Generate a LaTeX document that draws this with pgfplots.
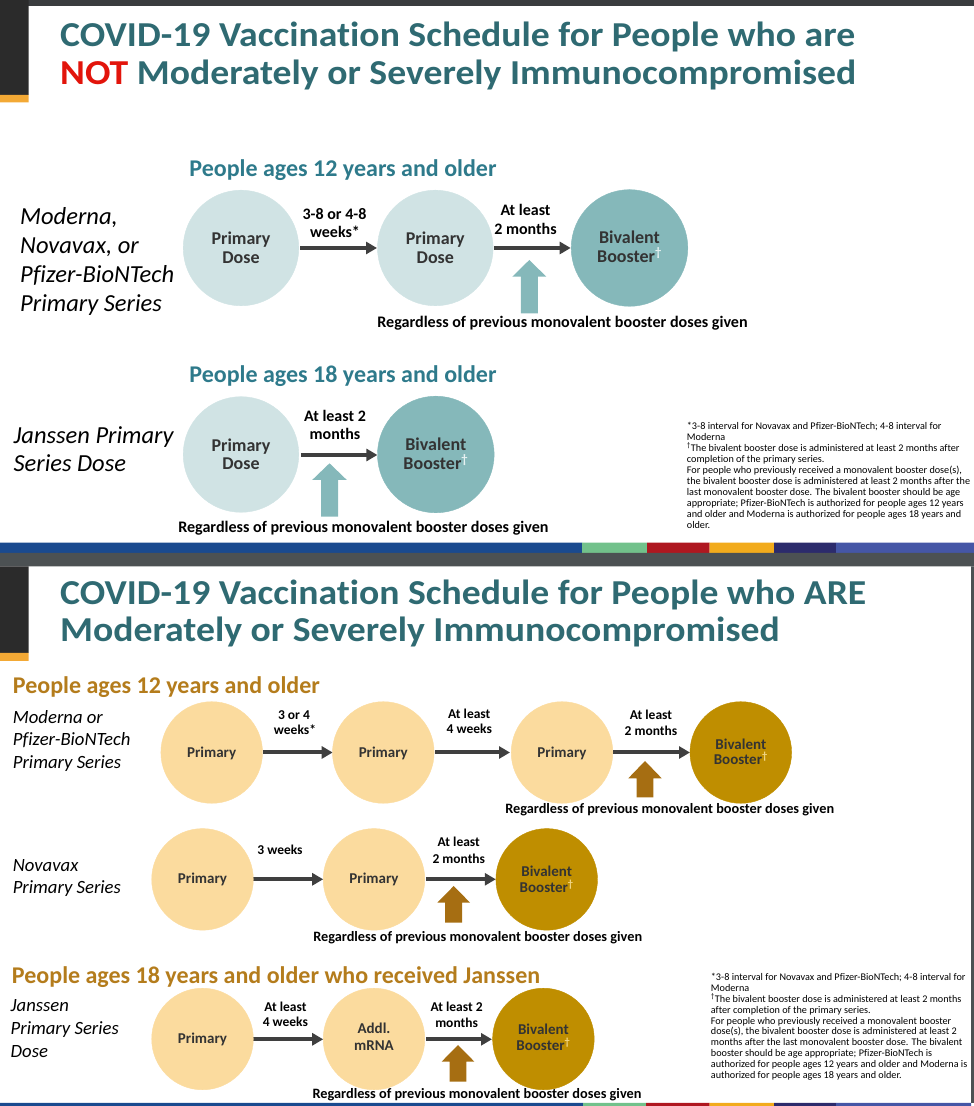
\documentclass[border=0pt]{standalone}
\usepackage{pgfplots}
\pgfplotsset{compat=1.18}
\usepackage{fontspec}
\setmainfont{Carlito}[Ligatures=NoCommon]
\usetikzlibrary{arrows.meta}
\definecolor{titlecol}{HTML}{2F6A72}
\definecolor{notred}{HTML}{E2140B}
\definecolor{hdrteal}{HTML}{2E7A8B}
\definecolor{lightteal}{HTML}{D0E3E4}
\definecolor{bivteal}{HTML}{85B8BA}
\definecolor{arrowgray}{HTML}{3F3F3F}
\definecolor{labeldark}{HTML}{333333}
\definecolor{goldhdr}{HTML}{B47C1C}
\definecolor{lightyellow}{HTML}{FBDB9E}
\definecolor{bivgold}{HTML}{BF8E00}
\definecolor{brownarrow}{HTML}{A66E12}
\definecolor{bandblue}{HTML}{1A4A8F}
\definecolor{bandgreen}{HTML}{72C18B}
\definecolor{bandred}{HTML}{AF1720}
\definecolor{bandorange}{HTML}{F2AB1C}
\definecolor{bandnavy}{HTML}{2C2B6C}
\definecolor{bandviolet}{HTML}{4556A6}
\definecolor{darkbar}{HTML}{3A3C3E}
\definecolor{leftstrip}{HTML}{2B2B2B}
\definecolor{striporange}{HTML}{F3A935}
\definecolor{grayband}{HTML}{4C5153}
\definecolor{dagteal}{HTML}{E8F2F2}
\definecolor{daggold}{HTML}{F2D88A}
\newcommand\fsz[2]{\fontsize{#1bp}{#2bp}\selectfont}
\newcommand\T[5]{\begin{pgfonlayer}{axis foreground}\node[anchor=#1, inner sep=0pt, font=#2] at (axis cs:#3,#4) {#5};\end{pgfonlayer}}
\newcommand\R[5]{\addplot[fill=#1, draw=none] coordinates {(#2,#3) (#4,#3) (#4,#5) (#2,#5) (#2,#3)};}
% up block arrow: color, cx, tip y, head half width, head base y, shaft half width, bottom y
\newcommand\UP[7]{\addplot[fill=#1, draw=none] coordinates {(#2,#3) ({#2+#4},#5) ({#2+#6},#5) ({#2+#6},#7) ({#2-#6},#7) ({#2-#6},#5) ({#2-#4},#5) (#2,#3)};}
\newcommand\AR[3]{\addplot[draw=arrowgray, line width=4bp, -{Triangle[length=11bp,width=12bp]}] coordinates {(#1,#3) (#2,#3)};}
\newcommand\FN{\fsz{10.2}{11}\color{black}}
\begin{document}
\begin{tikzpicture}
\begin{axis}[width=974bp, height=1106bp, scale only axis, xmin=0, xmax=974, ymin=0, ymax=1106, y dir=reverse, hide axis, clip=false, set layers=standard]
% ---------- frame decorations ----------
\R{darkbar}{0}{0}{974}{6}
\R{leftstrip}{0}{0}{28.5}{95}
\R{striporange}{0}{95}{28.5}{102.5}
\R{bandblue}{0}{542.7}{582}{553}
\R{bandgreen}{582}{542.7}{647}{553}
\R{bandred}{647}{542.7}{709.5}{553}
\R{bandorange}{709.5}{542.7}{774}{553}
\R{bandnavy}{774}{542.7}{836}{553}
\R{bandviolet}{836}{542.7}{974}{553}
\R{grayband}{0}{553}{974}{566.5}
\R{leftstrip}{0}{566.5}{28.5}{653}
\R{striporange}{0}{653}{28.5}{661}
\R{grayband}{971}{566.5}{974}{1103}
\R{bandblue}{0}{1103}{583}{1106}
\R{bandgreen}{583}{1103}{646}{1106}
\R{bandred}{646}{1103}{709.5}{1106}
\R{bandorange}{709.5}{1103}{774}{1106}
\R{bandnavy}{774}{1103}{836}{1106}
\R{bandviolet}{836}{1103}{971}{1106}
% ---------- top panel circles ----------
\addplot[only marks, mark=*, color=lightteal, mark size=57.8bp] coordinates {(241,248) (435.3,248) (241,454.5)};
\addplot[only marks, mark=*, color=bivteal, mark size=58.3bp] coordinates {(629.5,248) (435.8,454.5)};
\AR{300}{377}{248}
\AR{494}{570.7}{248}
\AR{300.8}{377.4}{455}
\UP{bivteal}{529.3}{260}{17}{276.7}{8.5}{313.3}
\UP{bivteal}{329.5}{463.3}{17.3}{480}{8.5}{516.7}
% ---------- bottom panel circles ----------
\addplot[only marks, mark=*, color=lightyellow, mark size=50.8bp] coordinates {(211.7,752.5) (383.3,752.5) (562,752.5) (202.5,879.4) (374,879.4) (202.5,1039) (374,1039)};
\addplot[only marks, mark=*, color=bivgold, mark size=50.8bp] coordinates {(740.8,752.5) (546.7,879.4) (543.4,1039)};
\AR{263.3}{332.7}{752.5}
\AR{435}{510}{752.5}
\AR{613.3}{690}{752.5}
\AR{253.4}{323.2}{879.3}
\AR{426}{495.8}{879.3}
\AR{253.4}{323.2}{1039.3}
\AR{426}{492}{1039.3}
\UP{brownarrow}{645}{761}{16.7}{778.3}{8.3}{797.3}
\UP{brownarrow}{453.7}{886}{16.4}{902.7}{8.5}{922.7}
\UP{brownarrow}{458}{1045}{16.4}{1061.7}{8.4}{1081.7}
% ---------- titles ----------
\T{base west}{\fsz{35}{40}\bfseries}{60}{46.7}{\resizebox{795bp}{\height}{\color{titlecol}COVID-19 Vaccination Schedule for People who are}}
\T{base west}{\fsz{35}{40}\bfseries}{60}{85}{\resizebox{796bp}{\height}{\color{notred}NOT \color{titlecol}Moderately or Severely Immunocompromised}}
\T{base west}{\fsz{35}{40}\bfseries}{60}{605}{\resizebox{806bp}{\height}{\color{titlecol}COVID-19 Vaccination Schedule for People who ARE}}
\T{base west}{\fsz{35}{40}\bfseries}{60}{641.7}{\resizebox{719.5bp}{\height}{\color{titlecol}Moderately or Severely Immunocompromised}}
% ---------- top panel text ----------
\T{base}{\fsz{24}{28}\bfseries\color{hdrteal}}{343}{177}{People ages 12 years and older}
\T{base west}{\fsz{24.5}{28}\itshape\color{black}}{20}{225}{Moderna,}
\T{base west}{\fsz{24.5}{28}\itshape\color{black}}{20}{254}{Novavax, or}
\T{base west}{\fsz{24.5}{28}\itshape\color{black}}{20}{283}{Pfizer-BioNTech}
\T{base west}{\fsz{24.5}{28}\itshape\color{black}}{20}{312}{Primary Series}
\T{base}{\fsz{18}{20}\bfseries\color{labeldark}}{241}{245}{Primary}
\T{base}{\fsz{18}{20}\bfseries\color{labeldark}}{241}{263.3}{Dose}
\T{base}{\fsz{18}{20}\bfseries\color{labeldark}}{435.3}{245}{Primary}
\T{base}{\fsz{18}{20}\bfseries\color{labeldark}}{435.3}{263.3}{Dose}
\T{base}{\fsz{18}{20}\bfseries\color{labeldark}}{629.5}{244}{Bivalent}
\T{base}{\fsz{18}{20}\bfseries\color{labeldark}}{629.5}{263}{Booster\textsuperscript{\color{dagteal}†}}
\T{base}{\fsz{16}{18}\bfseries\color{black}}{334.5}{220}{3-8 or 4-8}
\T{base}{\fsz{16}{18}\bfseries\color{black}}{335}{238}{weeks*}
\T{base}{\fsz{16}{18}\bfseries\color{black}}{525.5}{215.7}{At least}
\T{base}{\fsz{16}{18}\bfseries\color{black}}{525.5}{235}{2 months}
\T{base}{\fsz{16.1}{18}\bfseries\color{black}}{562.5}{327.5}{Regardless of previous monovalent booster doses given}
\T{base}{\fsz{24}{28}\bfseries\color{hdrteal}}{343}{383}{People ages 18 years and older}
\T{base west}{\fsz{24.5}{28}\itshape\color{black}}{13.4}{443.3}{Janssen Primary}
\T{base west}{\fsz{24.5}{28}\itshape\color{black}}{13.4}{471.7}{Series Dose}
\T{base}{\fsz{18}{20}\bfseries\color{labeldark}}{241}{451.7}{Primary}
\T{base}{\fsz{18}{20}\bfseries\color{labeldark}}{241}{470}{Dose}
\T{base}{\fsz{18}{20}\bfseries\color{labeldark}}{435.8}{450.5}{Bivalent}
\T{base}{\fsz{18}{20}\bfseries\color{labeldark}}{435.8}{469.5}{Booster\textsuperscript{\color{dagteal}†}}
\T{base}{\fsz{16}{18}\bfseries\color{black}}{335}{421.7}{At least 2}
\T{base}{\fsz{16}{18}\bfseries\color{black}}{335}{440}{months}
\T{base}{\fsz{16.1}{18}\bfseries\color{black}}{363.4}{533}{Regardless of previous monovalent booster doses given}
% top footnote
\T{base west}{\FN}{686.7}{429.3}{*3-8 interval for Novavax and Pfizer-BioNTech; 4-8 interval for}
\T{base west}{\FN}{686.7}{440.3}{Moderna}
\T{base west}{\FN}{686.7}{451.3}{\textsuperscript{†}The bivalent booster dose is administered at least 2 months after}
\T{base west}{\FN}{686.7}{462.3}{completion of the primary series.}
\T{base west}{\FN}{686.7}{473.3}{For people who previously received a monovalent booster dose(s),}
\T{base west}{\FN}{686.7}{484.3}{the bivalent booster dose is administered at least 2 months after the}
\T{base west}{\FN}{686.7}{495.3}{last monovalent booster dose. The bivalent booster should be age}
\T{base west}{\FN}{686.7}{506.3}{appropriate; Pfizer-BioNTech is authorized for people ages 12 years}
\T{base west}{\FN}{686.7}{517.3}{and older and Moderna is authorized for people ages 18 years and}
\T{base west}{\FN}{686.7}{528.3}{older.}
% ---------- bottom panel text ----------
\T{base west}{\fsz{24}{28}\bfseries\color{goldhdr}}{12.7}{693.3}{People ages 12 years and older}
\T{base west}{\fsz{18.7}{22}\itshape\color{black}}{12.7}{723.3}{Moderna or}
\T{base west}{\fsz{18.7}{22}\itshape\color{black}}{12.7}{746}{Pfizer-BioNTech}
\T{base west}{\fsz{18.7}{22}\itshape\color{black}}{12.7}{768.3}{Primary Series}
\T{base}{\fsz{15}{17}\bfseries\color{labeldark}}{211.7}{757.3}{Primary}
\T{base}{\fsz{15}{17}\bfseries\color{labeldark}}{383.3}{757.3}{Primary}
\T{base}{\fsz{15}{17}\bfseries\color{labeldark}}{562}{757.3}{Primary}
\T{base}{\fsz{15}{17}\bfseries\color{labeldark}}{740.8}{749.3}{Bivalent}
\T{base}{\fsz{15}{17}\bfseries\color{labeldark}}{740.8}{765}{Booster\textsuperscript{\color{daggold}†}}
\T{base}{\fsz{13.5}{16}\bfseries\color{black}}{294}{720}{3 or 4}
\T{base}{\fsz{13.5}{16}\bfseries\color{black}}{295}{735}{weeks*}
\T{base}{\fsz{13.5}{16}\bfseries\color{black}}{469.3}{718.3}{At least}
\T{base}{\fsz{13.5}{16}\bfseries\color{black}}{469.3}{734}{4 weeks}
\T{base}{\fsz{13.5}{16}\bfseries\color{black}}{651}{719.3}{At least}
\T{base}{\fsz{13.5}{16}\bfseries\color{black}}{651}{736}{2 months}
\T{base}{\fsz{14.3}{16}\bfseries\color{black}}{669.7}{813.5}{Regardless of previous monovalent booster doses given}
% row 2
\T{base west}{\fsz{18.7}{22}\itshape\color{black}}{12.6}{871.7}{Novavax}
\T{base west}{\fsz{18.7}{22}\itshape\color{black}}{12.6}{894}{Primary Series}
\T{base}{\fsz{15}{17}\bfseries\color{labeldark}}{202.5}{883.3}{Primary}
\T{base}{\fsz{15}{17}\bfseries\color{labeldark}}{374}{883.3}{Primary}
\T{base}{\fsz{15}{17}\bfseries\color{labeldark}}{546.7}{876.7}{Bivalent}
\T{base}{\fsz{15}{17}\bfseries\color{labeldark}}{546.7}{892.7}{Booster\textsuperscript{\color{daggold}†}}
\T{base}{\fsz{13.5}{16}\bfseries\color{black}}{280}{855}{3 weeks}
\T{base}{\fsz{13.5}{16}\bfseries\color{black}}{458.8}{846.7}{At least}
\T{base}{\fsz{13.5}{16}\bfseries\color{black}}{458.8}{863.3}{2 months}
\T{base}{\fsz{14.3}{16}\bfseries\color{black}}{477.7}{941.5}{Regardless of previous monovalent booster doses given}
% row 3
\T{base west}{\fsz{24}{28}\bfseries\color{goldhdr}}{11.8}{983.3}{People ages 18 years and older who received Janssen}
\T{base west}{\fsz{18.7}{22}\itshape\color{black}}{10.5}{1011.7}{Janssen}
\T{base west}{\fsz{18.7}{22}\itshape\color{black}}{10.5}{1035}{Primary Series}
\T{base west}{\fsz{18.7}{22}\itshape\color{black}}{10.5}{1057.7}{Dose}
\T{base}{\fsz{15}{17}\bfseries\color{labeldark}}{202.5}{1043.3}{Primary}
\T{base}{\fsz{15}{17}\bfseries\color{labeldark}}{374}{1034}{Addl.}
\T{base}{\fsz{15}{17}\bfseries\color{labeldark}}{374}{1050.7}{mRNA}
\T{base}{\fsz{15}{17}\bfseries\color{labeldark}}{543.4}{1035}{Bivalent}
\T{base}{\fsz{15}{17}\bfseries\color{labeldark}}{543.4}{1050.7}{Booster\textsuperscript{\color{daggold}†}}
\T{base}{\fsz{13.5}{16}\bfseries\color{black}}{285.4}{1011.7}{At least}
\T{base}{\fsz{13.5}{16}\bfseries\color{black}}{285.4}{1026.7}{4 weeks}
\T{base}{\fsz{13.5}{16}\bfseries\color{black}}{456.6}{1011.7}{At least 2}
\T{base}{\fsz{13.5}{16}\bfseries\color{black}}{456.6}{1027.3}{months}
\T{base}{\fsz{14.3}{16}\bfseries\color{black}}{477}{1098.5}{Regardless of previous monovalent booster doses given}
% bottom footnote
\T{base west}{\FN}{710.7}{981}{*3-8 interval for Novavax and Pfizer-BioNTech; 4-8 interval for}
\T{base west}{\FN}{710.7}{991.8}{Moderna}
\T{base west}{\FN}{710.7}{1002.6}{\textsuperscript{†}The bivalent booster dose is administered at least 2 months}
\T{base west}{\FN}{710.7}{1013.4}{after completion of the primary series.}
\T{base west}{\FN}{710.7}{1024.2}{For people who previously received a monovalent booster}
\T{base west}{\FN}{710.7}{1035}{dose(s), the bivalent booster dose is administered at least 2}
\T{base west}{\FN}{710.7}{1045.8}{months after the last monovalent booster dose. The bivalent}
\T{base west}{\FN}{710.7}{1056.6}{booster should be age appropriate; Pfizer-BioNTech is}
\T{base west}{\FN}{710.7}{1067.4}{authorized for people ages 12 years and older and Moderna is}
\T{base west}{\FN}{710.7}{1078.2}{authorized for people ages 18 years and older.}
\end{axis}
\end{tikzpicture}
\end{document}
